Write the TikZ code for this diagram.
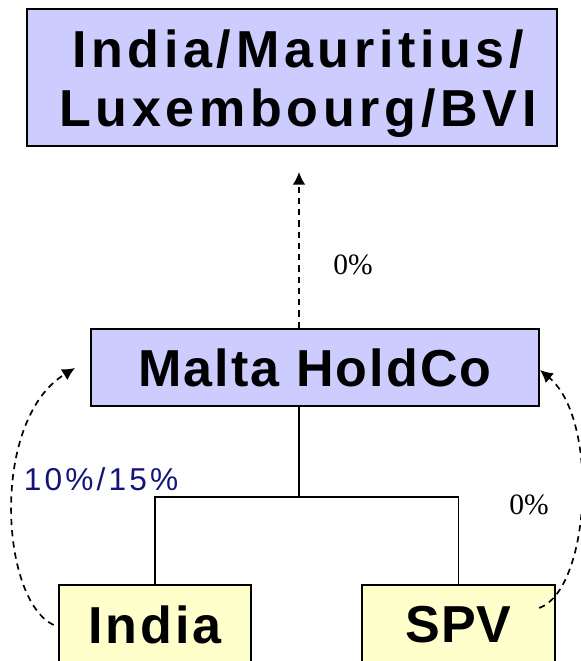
\documentclass[tikz,border=0pt]{standalone}
\usepackage{fontspec}
\usetikzlibrary{arrows.meta}
\setsansfont{Liberation Sans}
\newfontfamily\serifnum{Liberation Serif}
\definecolor{holdblue}{RGB}{204,204,255}
\definecolor{subyellow}{RGB}{255,255,204}
\definecolor{ratenavy}{RGB}{20,20,120}
\begin{document}
\begin{tikzpicture}[x=0.025cm, y=-0.025cm,
    entity/.style={draw, line width=1.6pt, inner sep=0pt,
      font=\fontsize{37}{41.8}\selectfont\sffamily\bfseries},
    flow/.style={-{Latex[length=9pt,width=9pt]}, line width=1.2pt, dash pattern=on 4.5pt off 3.5pt},
    rate/.style={font=\fontsize{21}{23}\selectfont\serifnum}]
    \useasboundingbox (0,0) rectangle (580,661);
    \node[entity, fill=holdblue, minimum width=13.25cm, minimum height=3.425cm] (treaty) at (292,77.5)
        {\raisebox{-11.5pt}[0pt][0pt]{\begin{tabular}{@{\hspace{8.5pt}}c@{}}\addfontfeature{LetterSpace=9}India/Mauritius/\\\addfontfeature{LetterSpace=9}Luxembourg/BVI\end{tabular}}};
    \node[entity, fill=holdblue, minimum width=11.2cm, minimum height=1.925cm] (malta) at (315,367.5)
        {\addfontfeature{LetterSpace=4}Malta HoldCo};
    \node[entity, fill=subyellow, minimum width=4.8cm, minimum height=2cm] (india) at (155,625)
        {\addfontfeature{LetterSpace=6}India};
    \node[entity, fill=subyellow, minimum width=4.825cm, minimum height=2cm] (spv) at (458.5,625)
        {\addfontfeature{LetterSpace=1}SPV};
    \coordinate (hub) at (299,497);
    \coordinate (uptip) at (299,172);
    \coordinate (lefttip) at (75,368);
    \coordinate (righttip) at (540,370);
    \draw[line width=1pt] (malta.south -| hub) -- (hub);
    \draw[line width=1pt] (india.north) |- (hub) -| (spv.north);
    \draw[flow] (malta.north -| hub) -- (uptip);
    \draw[flow] ([xshift=-3pt]india.west) .. controls (0,600) and (-10,420) .. (lefttip);
    \draw[flow] ([shift={(-17,-17)}]spv.east) .. controls (590,590) and (600,420) .. (righttip);
    \node[rate] (uprate) at (353,265) {0\%};
    \node[rate] (spvrate) at (529,505) {0\%};
    \node[font=\fontsize{22.5}{25}\selectfont\sffamily\addfontfeature{LetterSpace=10}, text=ratenavy] (indiarate) at (101,479) {10\%/15\%};
\end{tikzpicture}
\end{document}
